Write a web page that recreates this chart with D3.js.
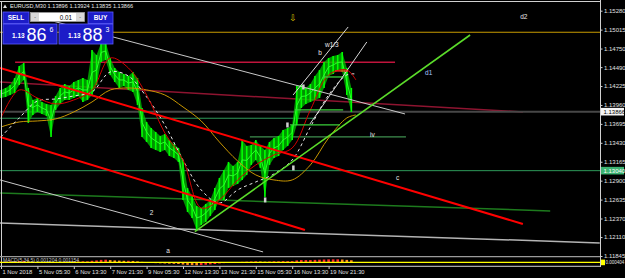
<!DOCTYPE html>
<html>
<head>
<meta charset="utf-8">
<script src="https://cdn.jsdelivr.net/npm/d3@7"></script>
<style>
  html, body { margin: 0; padding: 0; background: #000; overflow: hidden; }
  text { font-family: "Liberation Sans", Arial, sans-serif; }
</style>
</head>
<body>
<div id="chart"></div>
<script>
// EURUSD M30, one value pair per 8 bars
const barHigh = [1.14170, 1.14198, 1.14240, 1.14338, 1.14506, 1.14548, 1.14198, 1.14030, 1.14058, 1.14002,
  1.13974, 1.13960, 1.14086, 1.14198, 1.14254, 1.14226, 1.14282, 1.14310, 1.14338, 1.14310,
  1.14730, 1.14660, 1.14828, 1.14842, 1.14618, 1.14478, 1.14422, 1.14394, 1.14366, 1.14422,
  1.14338, 1.13918, 1.13722, 1.13638, 1.13582, 1.13526, 1.13554, 1.13470, 1.13414, 1.13358,
  1.13190, 1.12798, 1.12686, 1.12546, 1.12518, 1.12574, 1.12630, 1.12798, 1.12938, 1.13050,
  1.13162, 1.13106, 1.13162, 1.13470, 1.13386, 1.13400, 1.13470, 1.13386, 1.13330, 1.13442,
  1.13498, 1.13526, 1.13610, 1.13638, 1.13680, 1.14226, 1.14240, 1.14198, 1.14254, 1.14366,
  1.14450, 1.14562, 1.14618, 1.14646, 1.14660, 1.14702, 1.14478, 1.14198];
const barLow = [1.14058, 1.14072, 1.14100, 1.14128, 1.14240, 1.14310, 1.13708, 1.13820, 1.13862, 1.13834,
  1.13806, 1.13512, 1.13890, 1.13974, 1.14030, 1.14030, 1.14058, 1.14086, 1.14002, 1.14030,
  1.14100, 1.14240, 1.14562, 1.14590, 1.14380, 1.14282, 1.14198, 1.14226, 1.14170, 1.14142,
  1.13960, 1.13512, 1.13442, 1.13358, 1.13330, 1.13302, 1.13330, 1.13246, 1.13218, 1.13162,
  1.12630, 1.12462, 1.12378, 1.12210, 1.12280, 1.12322, 1.12406, 1.12490, 1.12630, 1.12630,
  1.12798, 1.12826, 1.12854, 1.12910, 1.12980, 1.13120, 1.13190, 1.13078, 1.12672, 1.13120,
  1.13218, 1.13246, 1.13330, 1.13386, 1.13470, 1.13680, 1.13918, 1.13974, 1.14002, 1.14030,
  1.14058, 1.14198, 1.14366, 1.14394, 1.14450, 1.14422, 1.14100, 1.13862];

// moving averages, sampled every 4 bars
const maBars = [0, 4, 8, 12, 16, 20, 24, 28, 32, 36, 40, 44, 48, 52, 56, 60, 64, 68, 72, 76, 78];
const maFast = [1.13778, 1.14170, 1.14058, 1.13974, 1.14030, 1.14170, 1.14618, 1.14478, 1.14100, 1.13568,
  1.13190, 1.12518, 1.12630, 1.12910, 1.13120, 1.13260, 1.13358, 1.13890, 1.14380, 1.14450, 1.14310];
const maMid = [1.13512, 1.13778, 1.14016, 1.14044, 1.14086, 1.14142, 1.14422, 1.14366, 1.14072, 1.13680,
  1.13190, 1.12770, 1.12588, 1.12770, 1.12882, 1.12994, 1.13190, 1.13652, 1.14100, 1.14380, 1.14394];
const maSlow = [1.13652, 1.13722, 1.13736, 1.13764, 1.13862, 1.14002, 1.14170, 1.14198, 1.14170, 1.14100,
  1.13932, 1.13736, 1.13442, 1.13176, 1.12980, 1.12910, 1.12910, 1.13120, 1.13498, 1.13778, 1.13820];

// oscillator subwindow
const oscHist = [0.0003, 0.0004, 0.0005, 0.0006, 0.0008, 0.0009, 0.0006, 0.0004, 0.0003, 0.0002,
  0.0002, 0.0001, 0.0002, 0.0003, 0.0004, 0.0004, 0.0005, 0.0005, 0.0006, 0.0006,
  0.0009, 0.0011, 0.0014, 0.0015, 0.0013, 0.0011, 0.0010, 0.0009, 0.0009, 0.0008,
  0.0006, 0.0003, 0.0001, -0.0002, -0.0004, -0.0005, -0.0006, -0.0007, -0.0008, -0.0009,
  -0.0012, -0.0014, -0.0015, -0.0016, -0.0015, -0.0013, -0.0011, -0.0009, -0.0006, -0.0004,
  -0.0002, -0.0001, 0.0001, 0.0003, 0.0004, 0.0005, 0.0006, 0.0005, 0.0004, 0.0005,
  0.0006, 0.0006, 0.0007, 0.0007, 0.0007, 0.0011, 0.0013, 0.0013, 0.0013, 0.0014,
  0.0015, 0.0016, 0.0017, 0.0017, 0.0017, 0.0016, 0.0014, 0.0012];

const priceTicks = [1.15280, 1.15015, 1.14750, 1.14490, 1.14225, 1.13960, 1.13695, 1.13430,
  1.13165, 1.12900, 1.12635, 1.12370, 1.12110, 1.11845];
const timeLabelBars = [0, 8, 16, 24, 32, 40, 48, 56, 64, 72];
const timeLabels = ["1 Nov 2018", "5 Nov 05:30", "6 Nov 13:30", "7 Nov 21:30", "9 Nov 05:30",
  "12 Nov 13:30", "13 Nov 21:30", "15 Nov 05:30", "16 Nov 13:30", "19 Nov 21:30"];

const bidPrice = 1.13866, askPrice = 1.13883, markedLevel = 1.13040;

// chart objects: name, bar0, price0, bar1, price1
const objLines = [
  ["gold", -1, 1.14978, 135, 1.14978],
  ["redLevel", 3.1, 1.14558, 86.6, 1.14558],
  ["maroon", -0.2, 1.14282, 114.7, 1.13862],
  ["bid", -1, 1.13866, 135, 1.13866],
  ["green", -1, 1.13040, 135, 1.13040],
  ["green", -1, 1.13774, 69, 1.13774],
  ["lime1", 64.6, 1.13890, 75.2, 1.13890],
  ["lime1", 70.8, 1.14352, 75.2, 1.14352],
  ["lime1", 63.5, 1.13680, 74.5, 1.13680],
  ["greenIv", 54.7, 1.13512, 89, 1.13512],
  ["darkGreen", -0.2, 1.12728, 120.7, 1.12476],
  ["grayWide", -0.2, 1.12308, 131.6, 1.12028],
  ["gray", -0.2, 1.12910, 57.6, 1.11902],
  ["gray", 10, 1.15158, 88.8, 1.13834],
  ["red", -0.2, 1.14478, 114.7, 1.12294],
  ["red", -0.2, 1.13512, 66.8, 1.12210],
  ["lime", 42.6, 1.12186, 103.1, 1.14940],
  ["white", 64.2, 1.14100, 76.3, 1.15052],
  ["white", 67.9, 1.13694, 80.4, 1.14842],
  ["redShort", 73.4, 1.14436, 76.3, 1.14436]
];
const objLabels = [
  ["b", 69.7, 1.14688], ["w1/3", 71.2, 1.14800], ["d1", 93.2, 1.14408], ["d2", 114.1, 1.15192],
  ["iv", 81.1, 1.13540], ["c", 86.8, 1.12938], ["2", 32.7, 1.12448], ["a", 36.3, 1.11916]
];
const objMarks = [[62.9, 1.13680], [64.2, 1.13078], [58, 1.12630], [66.4, 1.14212]];
const arrowMark = [64.2, 1.15178];

const lineStyle = {
  gold: ["#c89b00", 1.2], redLevel: ["#c0143c", 1.3], maroon: ["#8e1430", 1.5], bid: ["#474747", 2],
  green: ["#2e9a5a", 1], lime1: ["#3ad03a", 1.3], greenIv: ["#3f8f4f", 1.2], darkGreen: ["#1d7a1d", 1.5],
  grayWide: ["#b4b4b4", 1.5], gray: ["#c8c8c8", 1], red: ["#ff0000", 2], lime: ["#5bdc2a", 1.6],
  white: ["#d8d8d8", 1], redShort: ["#ff2020", 1.3]
};

const W = 625, H = 278, PR = 600, PT = 2, PB = 256;
const svg = d3.select("#chart").append("svg").attr("width", W).attr("height", H)
  .style("background", "#000");

const x = d3.scaleLinear().domain([0, 1]).range([1, 5.55]);
const y = d3.scaleLinear().domain([1.11845, 1.15280]).range([256, 10.7]);

svg.append("defs").append("clipPath").attr("id", "plot")
  .append("rect").attr("x", 0).attr("y", PT).attr("width", PR).attr("height", PB - PT);
const plot = svg.append("g").attr("clip-path", "url(#plot)");

// objects drawn behind the price
const back = ["gold", "redLevel", "maroon", "bid", "green", "greenIv", "darkGreen", "grayWide"];
function drawLines(g, list) {
  g.selectAll(null).data(list).join("line")
    .attr("x1", d => x(d[1])).attr("y1", d => y(d[2]))
    .attr("x2", d => x(d[3])).attr("y2", d => y(d[4]))
    .attr("stroke", d => lineStyle[d[0]][0]).attr("stroke-width", d => lineStyle[d[0]][1]);
}
drawLines(plot.append("g"), objLines.filter(d => back.includes(d[0])));

// price: high-low band with the bars on top
const idx = d3.range(barHigh.length);
plot.append("path")
  .attr("d", d3.area().x(i => x(i)).y0(i => y(barLow[i])).y1(i => y(barHigh[i]))
    .curve(d3.curveLinear)(idx))
  .attr("fill", "#00c400").attr("fill-opacity", 0.75);
plot.append("g").selectAll("line").data(idx).join("line")
  .attr("x1", i => x(i)).attr("x2", i => x(i))
  .attr("y1", i => y(barHigh[i])).attr("y2", i => y(barLow[i]))
  .attr("stroke", "#00ff00").attr("stroke-width", 1.6);
plot.append("path")
  .attr("d", d3.line().x(i => x(i)).y(i => y((barHigh[i] + barLow[i]) / 2))(idx))
  .attr("fill", "none").attr("stroke", "#2cff2c").attr("stroke-width", 1);

// moving averages
const maLine = arr => d3.line().curve(d3.curveCatmullRom).x(b => x(b)).y((b, k) => y(arr[k]))(maBars);
plot.append("path").attr("d", maLine(maSlow)).attr("fill", "none").attr("stroke", "#c89600").attr("stroke-width", 1);
plot.append("path").attr("d", maLine(maMid)).attr("fill", "none").attr("stroke", "#e6e6e6")
  .attr("stroke-width", 1).attr("stroke-dasharray", "3,3");
plot.append("path").attr("d", maLine(maFast)).attr("fill", "none").attr("stroke", "#d40000").attr("stroke-width", 1);

// objects drawn above the price
drawLines(plot.append("g"), objLines.filter(d => !back.includes(d[0])));

plot.append("g").selectAll("rect").data(objMarks).join("rect")
  .attr("x", d => x(d[0]) - 1).attr("y", d => y(d[1]) - 2.5).attr("width", 2.5).attr("height", 5)
  .attr("fill", "#cfcfcf");
plot.append("g").selectAll("text").data(objLabels).join("text")
  .attr("x", d => x(d[1])).attr("y", d => y(d[2]) + 2.5)
  .attr("fill", d => d[0] === "d1" ? "#a8c8ff" : "#e8e8e8").attr("font-size", 6.5).text(d => d[0]);
plot.append("text").attr("x", x(arrowMark[0])).attr("y", y(arrowMark[1]) + 3.5)
  .attr("text-anchor", "middle").attr("fill", "#d8c000").attr("font-size", 9)
  .style("font-family", "DejaVu Sans").text("\u21e9");

// frame
svg.append("line").attr("x1", 0).attr("x2", PR).attr("y1", 1.5).attr("y2", 1.5).attr("stroke", "#d0d0d0");
svg.append("line").attr("x1", 1.5).attr("x2", 1.5).attr("y1", 1).attr("y2", 266).attr("stroke", "#d0d0d0");

// price axis
const yAxis = svg.append("g").attr("transform", `translate(${PR + 0.5},0)`)
  .call(d3.axisRight(y).tickValues(priceTicks).tickSize(2).tickPadding(1.5).tickFormat(d3.format(".5f")));
yAxis.select(".domain").attr("stroke", "#d0d0d0").attr("d", "M0,0V267");
yAxis.selectAll(".tick line").attr("stroke", "#d0d0d0");
yAxis.selectAll("text").attr("fill", "#e0e0e0").attr("font-size", 6).style("font-family", "Liberation Sans");

function priceTag(p, bg, fg) {
  const g = svg.append("g").attr("transform", `translate(${PR + 1},${y(p)})`);
  g.append("rect").attr("x", 0).attr("y", -3.8).attr("width", 23).attr("height", 7.6).attr("fill", bg);
  g.append("text").attr("x", 2.5).attr("y", 2.2).attr("fill", fg).attr("font-size", 6).text(p.toFixed(5));
}
priceTag(bidPrice, "#f4f4f4", "#000");
priceTag(markedLevel, "#3cb371", "#fff");

// oscillator subwindow
const yo = d3.scaleLinear().domain([-0.002, 0.003]).range([266, 257]);
svg.append("line").attr("x1", 0).attr("x2", PR).attr("y1", 256.7).attr("y2", 256.7).attr("stroke", "#9a9a9a").attr("stroke-width", 1.2);
svg.append("line").attr("x1", 0).attr("x2", PR).attr("y1", 266.3).attr("y2", 266.3).attr("stroke", "#d0d0d0");
svg.append("g").selectAll("line").data(idx).join("line")
  .attr("x1", i => x(i)).attr("x2", i => x(i)).attr("y1", yo(0)).attr("y2", i => yo(oscHist[i]))
  .attr("stroke", (i) => i > 0 && oscHist[i] < oscHist[i - 1] ? "#ff8a1e" : "#ff2a2a").attr("stroke-width", 2.6);
svg.append("line").attr("x1", 0).attr("x2", PR).attr("y1", yo(0)).attr("y2", yo(0)).attr("stroke", "#ffff00").attr("stroke-width", 1.3);
svg.append("text").attr("x", 3).attr("y", 261.5).attr("fill", "#c8c8c8").attr("font-size", 5)
  .text("MACD(5,34,5) 0.001204 0.001154");
svg.append("rect").attr("x", PR + 1).attr("y", yo(0) - 2.8).attr("width", 4).attr("height", 5.6).attr("fill", "#ffff00");
svg.append("text").attr("x", PR + 5.5).attr("y", yo(0) + 1.8).attr("fill", "#e0e0e0").attr("font-size", 4.5).text("0.000404");

// time axis
const xAxis = svg.append("g").attr("transform", "translate(0,266.5)")
  .call(d3.axisBottom(x).tickValues(timeLabelBars).tickSize(2.5).tickPadding(1)
    .tickFormat((d, k) => timeLabels[k]));
xAxis.select(".domain").remove();
xAxis.selectAll(".tick line").attr("stroke", "#d0d0d0");
xAxis.selectAll("text").attr("fill", "#e0e0e0").attr("font-size", 5.8).attr("text-anchor", "start")
  .attr("dx", 1).style("font-family", "Liberation Sans");

// header
svg.append("path").attr("d", "M3,8L5,4.5L7,8Z").attr("fill", "#e0e0e0");
svg.append("text").attr("x", 10).attr("y", 8.3).attr("fill", "#e8e8e8").attr("font-size", 5.6)
  .text("EURUSD,M30  1.13896 1.13924 1.13835 1.13866");

// one-click trading panel
const panel = svg.append("g");
const blue = "#1c1cc8", edge = "#5a5aff";
panel.append("rect").attr("x", 3).attr("y", 12).attr("width", 26).attr("height", 11.5).attr("fill", blue).attr("stroke", edge).attr("stroke-width", 0.8);
panel.append("rect").attr("x", 88).attr("y", 12).attr("width", 25).attr("height", 11.5).attr("fill", blue).attr("stroke", edge).attr("stroke-width", 0.8);
panel.append("text").attr("x", 16).attr("y", 20.3).attr("text-anchor", "middle").attr("fill", "#fff").attr("font-size", 6.5).attr("font-weight", "bold").text("SELL");
panel.append("text").attr("x", 100.5).attr("y", 20.3).attr("text-anchor", "middle").attr("fill", "#fff").attr("font-size", 6.5).attr("font-weight", "bold").text("BUY");
panel.append("rect").attr("x", 30.5).attr("y", 12.5).attr("width", 54).attr("height", 9).attr("fill", "#fff").attr("stroke", "#9a9a9a").attr("stroke-width", 0.8);
panel.append("rect").attr("x", 31).attr("y", 13).attr("width", 8).attr("height", 8).attr("fill", "#d8d8d8");
panel.append("rect").attr("x", 76).attr("y", 13).attr("width", 8).attr("height", 8).attr("fill", "#d8d8d8");
panel.append("text").attr("x", 35).attr("y", 18.5).attr("text-anchor", "middle").attr("fill", "#333").attr("font-size", 5).text("-");
panel.append("text").attr("x", 80).attr("y", 18.5).attr("text-anchor", "middle").attr("fill", "#333").attr("font-size", 5).text("-");
panel.append("text").attr("x", 72).attr("y", 19.5).attr("text-anchor", "end").attr("fill", "#000").attr("font-size", 6.3).text("0.01");

const quotes = [[3, bidPrice], [59, askPrice]];
quotes.forEach(([bx, p]) => {
  const s = p.toFixed(5);
  const g = panel.append("g").attr("transform", `translate(${bx},24)`);
  g.append("rect").attr("x", 0).attr("y", 0).attr("width", 54).attr("height", 20).attr("fill", blue).attr("stroke", edge).attr("stroke-width", 0.8);
  g.append("text").attr("x", 9).attr("y", 14).attr("fill", "#fff").attr("font-size", 6.5).attr("font-weight", "bold").text(s.slice(0, 4));
  g.append("text").attr("x", 23.5).attr("y", 16.5).attr("fill", "#fff").attr("font-size", 18).text(s.slice(4, 6));
  g.append("text").attr("x", 46.5).attr("y", 7.5).attr("fill", "#fff").attr("font-size", 7).text(s.slice(6));
});
</script>
</body>
</html>
